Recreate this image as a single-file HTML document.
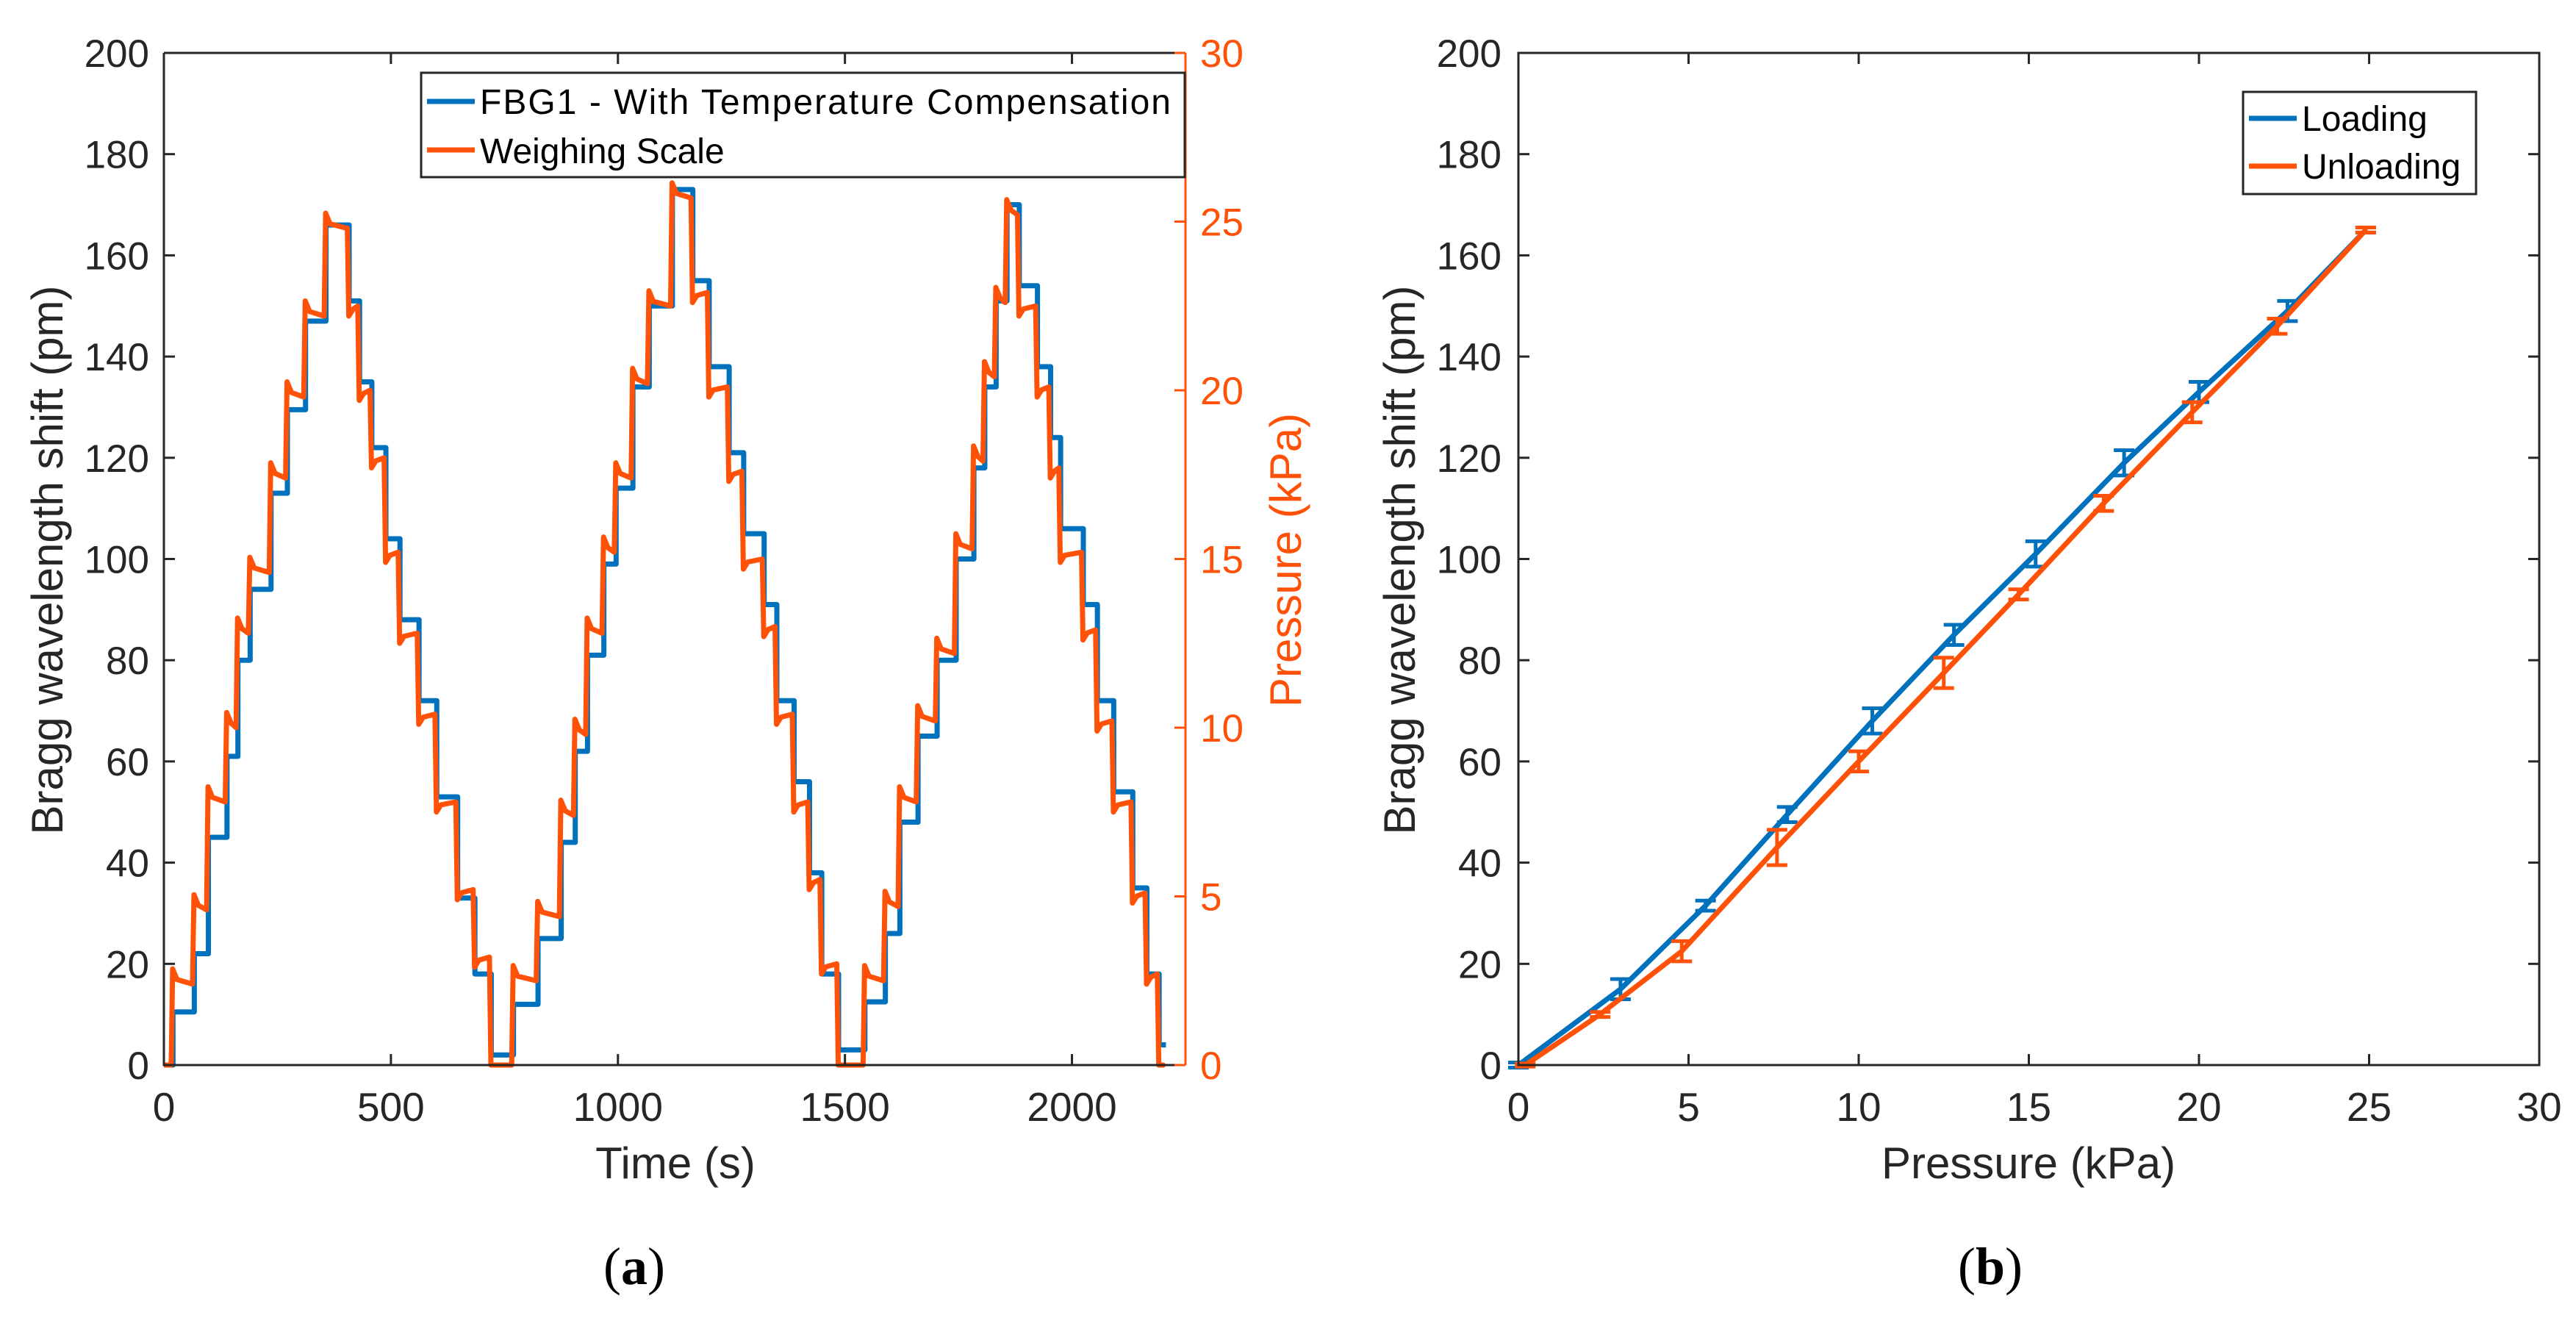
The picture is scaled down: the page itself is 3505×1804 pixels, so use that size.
<!DOCTYPE html>
<html><head><meta charset="utf-8"><style>
html,body{margin:0;padding:0;background:#fff;}
svg{display:block;}
</style></head><body>
<svg id="fig" width="3505" height="1804" viewBox="0 0 3505 1804" xmlns="http://www.w3.org/2000/svg" font-family="Liberation Sans, sans-serif">
<g id="pa"></g>
<g id="pb"></g>
</svg>
<script>
// ---- Panel (a) data ----
const stepTimes = [0,20,67,98,139,163,190,236,272,312,357,408,431,458,489,520,562,601,647,685,721,
770,824,875,906,933,969,996,1033,1069,1120,1165,1201,1245,1277,1322,1350,1388,1422,1449,1486,
1544,1589,1621,1661,1703,1745,1784,1808,1833,1857,1884,1924,1953,1975,2025,2056,2092,2134,2165,2192];
const fbgLevels = [0,10.5,22,45,61,80,94,113,129.5,147,166,151,135,122,104,88,72,53,33,18,2,
12,25,44,62,81,99,114,134,150,173,155,138,121,105,91,72,56,38,18,3,
12.5,26,48,65,80,100,118,134,151,170,154,138,124,106,91,72,54,35,18,4];
const scaleLevels = [0,2.4,4.6,7.8,10.0,12.8,14.6,17.4,19.8,22.2,24.8,22.5,20.0,18.0,15.2,12.8,10.4,7.8,5.2,3.2,0,
2.5,4.4,7.4,9.8,12.8,15.2,17.4,20.2,22.5,25.7,22.9,20.1,17.6,15.0,13.0,10.4,7.8,5.5,3.0,0,
2.5,4.7,7.8,10.2,12.2,15.3,17.9,20.4,22.6,25.2,22.5,20.1,17.7,15.2,12.9,10.2,7.8,5.1,2.7,0];
const endTime = 2207;
const aXTicks = [0,500,1000,1500,2000];
const aYTicks = [0,20,40,60,80,100,120,140,160,180,200];
const aY2Ticks = [0,5,10,15,20,25,30];
// ---- Panel (b) data ----
const loadP = [0,3.0,5.5,7.9,10.4,12.8,15.2,17.8,20.0,22.6,24.9];
const loadS = [0,15,31.5,49.5,68,85,101,119,133,149,165];
const loadE = [0.5,2,1,1.5,2.5,2,2.5,2.5,2,2,0.5];
const unloadP = [0.2,2.4,4.8,7.6,10.0,12.5,14.7,17.2,19.8,22.3,24.9];
const unloadS = [0,10,22.5,43,60,77.5,93,111,129,146,165];
const unloadE = [0.3,0.5,2,3.5,2,3,1,1.5,2,1.5,0.5];
const bXTicks = [0,5,10,15,20,25,30];
const bYTicks = [0,20,40,60,80,100,120,140,160,180,200];

const NS="http://www.w3.org/2000/svg";
const BLUE="#0072BD", ORANGE="#FF5208", AX="#262626";
function mk(parent,tag,attrs,name,txt){
  const e=document.createElementNS(NS,tag);
  for(const k in attrs) e.setAttribute(k,attrs[k]);
  
  
  if(txt!==undefined) e.textContent=txt;
  parent.appendChild(e); return e;
}
const T=72,B=1449;
// ===== Panel a =====
const pa=document.getElementById('pa');
const aL=223,aR=1613;
const ax=t=>aL+(t/2250)*(aR-aL);
const ay=v=>B-(v/200)*(B-T);
const ay2=v=>B-(v/30)*(B-T);
let d="";
for(let i=0;i<stepTimes.length;i++){
  const t0=stepTimes[i], t1=(i+1<stepTimes.length)?stepTimes[i+1]:endTime;
  const y=ay(fbgLevels[i]);
  d+=(i===0?"M":"L")+ax(t0)+","+y+" L"+ax(t1)+","+y+" ";
}
mk(pa,'path',{d:d,fill:'none',stroke:BLUE,'stroke-width':7,'stroke-linejoin':'round'},'fbg1-series');
d="";
for(let i=0;i<stepTimes.length;i++){
  const t0=Math.max(0,stepTimes[i]-4), t1=(i+1<stepTimes.length)?stepTimes[i+1]-4:endTime-12;
  const v=scaleLevels[i], prev=i>0?scaleLevels[i-1]:v;
  let os=(v-prev)>0?0.45:(v-prev)<0?-0.3:0;
  if(v===0) os=0;
  if(i===0){ d+="M"+ax(t0)+","+ay2(v)+" "; }
  else { d+="L"+(ax(t0)+2)+","+ay2(v+os)+" L"+(ax(t0)+8)+","+ay2(v+os*0.3)+" "; }
  d+="L"+ax(t1)+","+ay2(v)+" ";
}
mk(pa,'path',{d:d,fill:'none',stroke:ORANGE,'stroke-width':7,'stroke-linejoin':'round'},'weighing-scale-series');
mk(pa,'path',{d:`M${aL},${T} L${aR},${T} M${aL},${T} L${aL},${B} L${aR},${B}`,fill:'none',stroke:AX,'stroke-width':3},'axes-a-box');
mk(pa,'line',{x1:aR,y1:T,x2:aR,y2:B,stroke:ORANGE,'stroke-width':3},'right-y-axis-a');
aXTicks.forEach(t=>{
  const x=ax(t);
  mk(pa,'line',{x1:x,y1:B,x2:x,y2:B-15,stroke:AX,'stroke-width':3},'x-tick-a');
  mk(pa,'line',{x1:x,y1:T,x2:x,y2:T+15,stroke:AX,'stroke-width':3},'x-tick-top-a');
  mk(pa,'text',{x:x,y:1525,'font-size':55,fill:AX,'text-anchor':'middle'},'x-tick-label-a',String(t));
});
aYTicks.forEach(v=>{
  const y=ay(v);
  mk(pa,'line',{x1:aL,y1:y,x2:aL+15,y2:y,stroke:AX,'stroke-width':3},'y-tick-a');
  mk(pa,'text',{x:203,y:y+19,'font-size':53,fill:AX,'text-anchor':'end'},'y-tick-label-a',String(v));
});
aY2Ticks.forEach(v=>{
  const y=ay2(v);
  mk(pa,'line',{x1:aR,y1:y,x2:aR-15,y2:y,stroke:ORANGE,'stroke-width':3},'y2-tick-a');
  mk(pa,'text',{x:1633,y:y+19,'font-size':53,fill:ORANGE,'text-anchor':'start'},'y2-tick-label-a',String(v));
});
mk(pa,'text',{x:919,y:1603,'font-size':60,fill:AX,'text-anchor':'middle'},'x-axis-title-a','Time (s)');
mk(pa,'text',{x:0,y:0,'font-size':60,fill:AX,'text-anchor':'middle',transform:'translate(85,762) rotate(-90)'},'y-axis-title-a','Bragg wavelength shift (pm)');
mk(pa,'text',{x:0,y:0,'font-size':60,fill:ORANGE,'text-anchor':'middle',transform:'translate(1770,762) rotate(-90)'},'y2-axis-title-a','Pressure (kPa)');
mk(pa,'rect',{x:573,y:99,width:1039,height:142,fill:'#fff',stroke:AX,'stroke-width':3},'legend-a-box');
mk(pa,'line',{x1:581,y1:138,x2:646,y2:138,stroke:BLUE,'stroke-width':7},'legend-fbg1-line');
mk(pa,'text',{x:653,y:155,'font-size':48,fill:'#000',textLength:940},'legend-fbg1-label','FBG1 - With Temperature Compensation');
mk(pa,'line',{x1:581,y1:204,x2:646,y2:204,stroke:ORANGE,'stroke-width':7},'legend-scale-line');
mk(pa,'text',{x:653,y:222,'font-size':48,fill:'#000'},'legend-scale-label','Weighing Scale');
mk(pa,'text',{x:863,y:1747,'font-size':72,fill:'#000','text-anchor':'middle',style:'font-family:"Liberation Serif",serif'},'panel-a-caption','(a)').innerHTML='(<tspan font-weight="bold">a</tspan>)';

// ===== Panel b =====
const pb=document.getElementById('pb');
const bL=2066,bR=3455;
const bx=p=>bL+(p/30)*(bR-bL);
const by=v=>B-(v/200)*(B-T);
function series(P,S,E,col,name){
  let dd="";
  P.forEach((p,i)=>{dd+=(i?"L":"M")+bx(p)+","+by(S[i])+" ";});
  mk(pb,'path',{d:dd,fill:'none',stroke:col,'stroke-width':7,'stroke-linejoin':'round'},name+'-line');
  P.forEach((p,i)=>{
    const x=bx(p),y1=by(S[i]-E[i]),y2=by(S[i]+E[i]);
    mk(pb,'path',{d:`M${x},${y1} L${x},${y2} M${x-14},${y1} L${x+14},${y1} M${x-14},${y2} L${x+14},${y2}`,fill:'none',stroke:col,'stroke-width':5},name+'-errorbar');
  });
}
series(loadP,loadS,loadE,BLUE,'loading');
series(unloadP,unloadS,unloadE,ORANGE,'unloading');
mk(pb,'rect',{x:bL,y:T,width:bR-bL,height:B-T,fill:'none',stroke:AX,'stroke-width':3},'axes-b-box');
bXTicks.forEach(p=>{
  const x=bx(p);
  mk(pb,'line',{x1:x,y1:B,x2:x,y2:B-15,stroke:AX,'stroke-width':3},'x-tick-b');
  mk(pb,'line',{x1:x,y1:T,x2:x,y2:T+15,stroke:AX,'stroke-width':3},'x-tick-top-b');
  mk(pb,'text',{x:x,y:1525,'font-size':55,fill:AX,'text-anchor':'middle'},'x-tick-label-b',String(p));
});
bYTicks.forEach(v=>{
  const y=by(v);
  mk(pb,'line',{x1:bL,y1:y,x2:bL+15,y2:y,stroke:AX,'stroke-width':3},'y-tick-b');
  mk(pb,'line',{x1:bR,y1:y,x2:bR-15,y2:y,stroke:AX,'stroke-width':3},'y-tick-right-b');
  mk(pb,'text',{x:2043,y:y+19,'font-size':53,fill:AX,'text-anchor':'end'},'y-tick-label-b',String(v));
});
mk(pb,'text',{x:2760,y:1603,'font-size':60,fill:AX,'text-anchor':'middle'},'x-axis-title-b','Pressure (kPa)');
mk(pb,'text',{x:0,y:0,'font-size':60,fill:AX,'text-anchor':'middle',transform:'translate(1925,762) rotate(-90)'},'y-axis-title-b','Bragg wavelength shift (pm)');
mk(pb,'rect',{x:3052,y:125,width:317,height:139,fill:'#fff',stroke:AX,'stroke-width':3},'legend-b-box');
mk(pb,'line',{x1:3060,y1:161,x2:3125,y2:161,stroke:BLUE,'stroke-width':7},'legend-loading-line');
mk(pb,'text',{x:3132,y:178,'font-size':48,fill:'#000'},'legend-loading-label','Loading');
mk(pb,'line',{x1:3060,y1:226,x2:3125,y2:226,stroke:ORANGE,'stroke-width':7},'legend-unloading-line');
mk(pb,'text',{x:3132,y:243,'font-size':48,fill:'#000'},'legend-unloading-label','Unloading');
mk(pb,'text',{x:2708,y:1747,'font-size':72,fill:'#000','text-anchor':'middle',style:'font-family:"Liberation Serif",serif'},'panel-b-caption','(b)').innerHTML='(<tspan font-weight="bold">b</tspan>)';
</script>
</body></html>
